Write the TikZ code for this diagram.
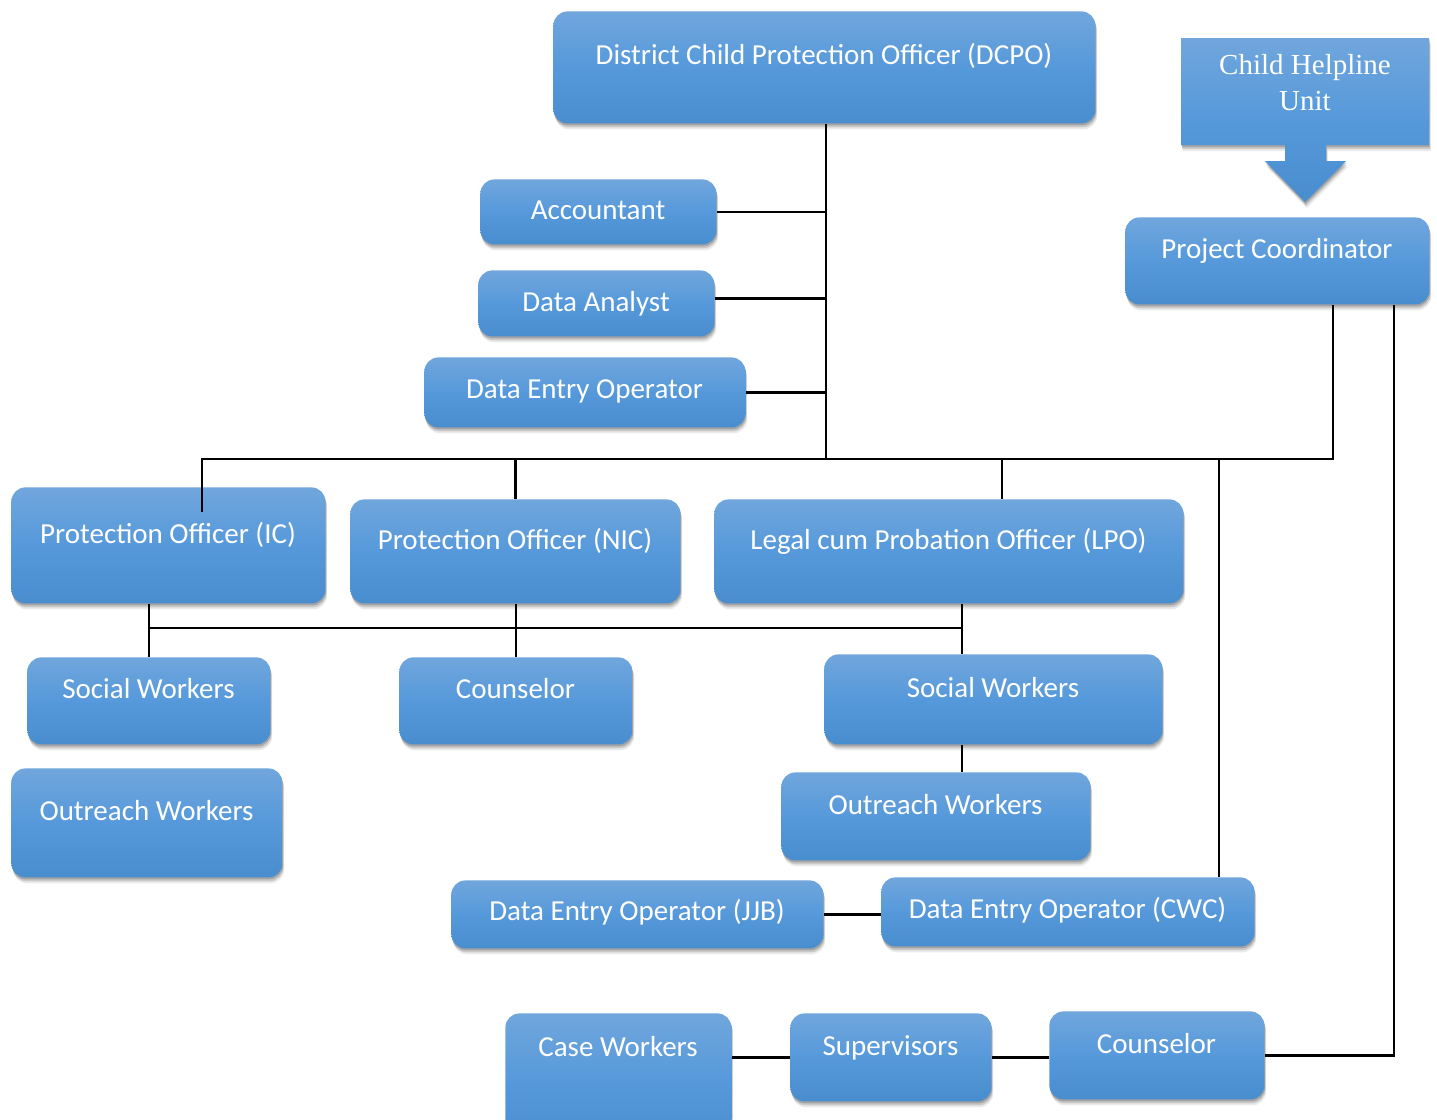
\documentclass[tikz,border=0pt]{standalone}
\usepackage{fontspec}
\setmainfont{Carlito}
\newfontfamily\chlfont{Liberation Serif}
\usetikzlibrary{shadows,calc}
\definecolor{btop}{RGB}{112,166,220}
\definecolor{bmid}{RGB}{86,153,219}
\definecolor{bbot}{RGB}{72,141,206}
\tikzset{
  shadowed/.style={
    drop shadow={shadow xshift=0.3pt, shadow yshift=-1pt, fill=black, opacity=0.18},
    drop shadow={shadow xshift=0.6pt, shadow yshift=-2pt, fill=black, opacity=0.14},
    drop shadow={shadow xshift=0.9pt, shadow yshift=-3pt, fill=black, opacity=0.08}},
  box/.style={draw=none, rounded corners=7pt, top color=btop, bottom color=bbot, middle color=bmid, shadowed, inner sep=0pt},
  lbl/.style={text=white, font=\fontsize{14.5}{17}\selectfont, inner sep=0pt, anchor=base},
  conn/.style={line width=1.35pt, black},
}
\newcommand\obox[7]{%
  \node[box, anchor=north west, minimum width={(#4-#2)*0.5pt}, minimum height={(#5-#3)*0.5pt}] (#1) at (#2,#3) {};
  \node[lbl] (#1-t) at ({(#2+#4)/2},#6) {#7};}
\begin{document}
\begin{tikzpicture}[x=0.5pt,y=-0.5pt]
\useasboundingbox (0,0) rectangle (1437,1120);
\fill[white] (0,0) rectangle (1437,1120);
\clip (0,0) rectangle (1437,1120);

% Child Helpline Unit with arrow
\shade[top color=btop, bottom color=bbot, middle color=bmid, shadowed]
  (1181,38) -- (1429,38) -- (1429,145) -- (1326,145) -- (1326,161) -- (1346,161)
  -- (1305,202) -- (1265,161) -- (1285,161) -- (1285,145) -- (1181,145) -- cycle;
\node[lbl, font=\chlfont\fontsize{14.5}{18}\selectfont] (chl-t1) at (1305,74.5) {Child Helpline};
\node[lbl, font=\chlfont\fontsize{14.5}{18}\selectfont] (chl-t2) at (1305,110.5) {Unit};

\obox{dcpo}{553}{11}{1095}{123}{64.5}{District Child Protection Officer (DCPO)}
\obox{pc}{1125}{217}{1429}{304}{258.5}{Project Coordinator}
\obox{acc}{480}{179}{716}{244}{219.5}{Accountant}
\obox{da}{478}{270}{714}{336}{311.5}{Data Analyst}
\obox{deo}{424}{357}{745}{427}{398.5}{Data Entry Operator}
\obox{ic}{11}{487}{325}{603}{543.5}{Protection Officer (IC)}
\obox{nic}{350}{499}{680}{603}{549.5}{Protection Officer (NIC)}
\obox{lpo}{714}{499}{1183}{603}{549.5}{Legal cum Probation Officer (LPO)}
\obox{swl}{27}{657}{270}{744}{698.5}{Social Workers}
\obox{cou}{399}{657}{632}{744}{698.5}{Counselor}
\obox{swr}{824}{654}{1162}{744}{697.5}{Social Workers}
\obox{owl}{11}{768}{282}{877}{820.5}{Outreach Workers}
\obox{owr}{781}{772}{1090}{860}{814.5}{Outreach Workers}
\obox{jjb}{451}{880}{823}{948}{920.5}{Data Entry Operator (JJB)}
\obox{cwc}{881}{877}{1254}{946}{918.5}{Data Entry Operator (CWC)}
\obox{case}{505}{1013}{731}{1150}{1056.5}{Case Workers}
\obox{sup}{790}{1013}{991}{1101}{1055.5}{Supervisors}
\obox{coub}{1049}{1011}{1264}{1099}{1053.5}{Counselor}

% junction coordinates
\coordinate (busL) at (202,459);
\coordinate (busR) at (1333,459);
\coordinate (dj) at (826,459);
\coordinate (lpoJ) at (1002,459);
\coordinate (cwcJ) at (1219,459);
\coordinate (icIn) at (202,512);
\coordinate (pcR) at (1394,1059);
\coordinate (lbR) at (962,628);

% connectors
\draw[conn] (dj |- dcpo.south) -- (dj);
\draw[conn] (acc.east) -- (acc.east -| dj);
\draw[conn] ($(da.east)+(0,-5)$) -- ($(da.east -| dj)+(0,-5)$);
\draw[conn] (deo.east) -- (deo.east -| dj);
\draw[conn] (icIn) -- (busL) -- (busR) -- (busR |- pc.south);
\draw[conn] (nic.north |- busL) -- (nic.north);
\draw[conn] (lpoJ) -- (lpoJ |- lpo.north);
\draw[conn] (cwcJ) -- (cwcJ |- cwc.north);
\draw[conn] (pcR |- pc.south) -- (pcR |- coub.east) -- (coub.east);
\draw[conn] (swl.north |- ic.south) -- (swl.north);
\draw[conn] (swl.north |- lbR) -- (lbR);
\draw[conn] (cou.north |- nic.south) -- (cou.north);
\draw[conn] (lbR |- lpo.south) -- (lbR |- swr.north);
\draw[conn] (lbR |- swr.south) -- (lbR |- owr.north);
\draw[conn] (jjb.east) -- (jjb.east -| cwc.west);
\draw[conn] (sup.west) -- (sup.west -| case.east);
\draw[conn] (sup.east) -- (sup.east -| coub.west);
\end{tikzpicture}
\end{document}
